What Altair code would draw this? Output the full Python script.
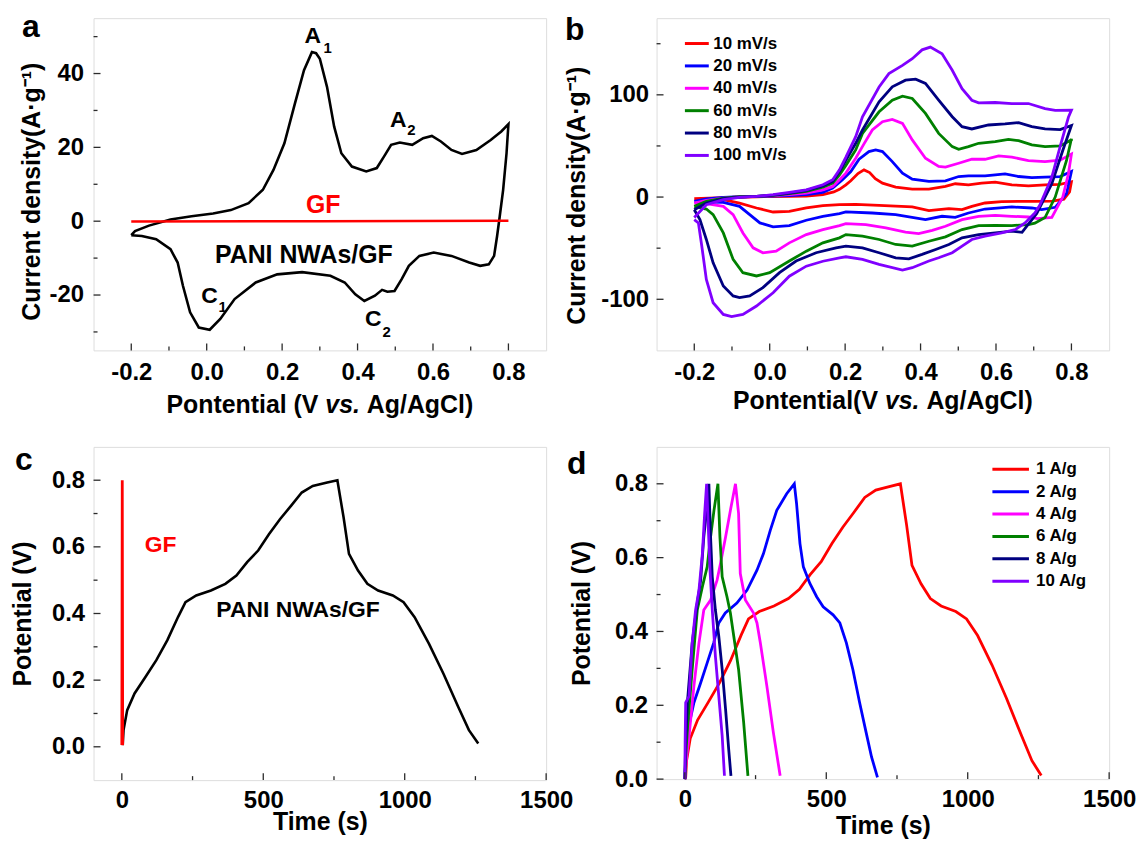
import altair as alt
import pandas as pd

FONT = "Liberation Sans"
FRAME = "#2b2b2b"

# ---------------- panel a : CV of PANI NWAs/GF and GF ----------------
a_up_x = [-0.2, -0.19, -0.153, -0.096, -0.04, 0.017, 0.064, 0.111, 0.149, 0.177, 0.206, 0.234, 0.258, 0.279, 0.29, 0.3, 0.319, 0.338, 0.357, 0.385, 0.423, 0.451, 0.47, 0.489, 0.512, 0.545, 0.574, 0.597, 0.621, 0.649, 0.677, 0.715, 0.753, 0.781, 0.8]
a_up_y = [-3.8, -2.7, -1.2, 0.45, 1.35, 2.1, 3.0, 4.9, 8.5, 13.9, 21.1, 31.9, 40.9, 45.8, 45.5, 44.0, 36.4, 25.6, 18.4, 14.8, 13.5, 14.4, 17.5, 20.7, 21.3, 20.7, 22.5, 23.1, 21.6, 19.3, 18.2, 19.3, 22.0, 24.3, 26.3]
a_dn_x = [0.8, 0.795, 0.786, 0.777, 0.770, 0.762, 0.748, 0.725, 0.696, 0.649, 0.602, 0.564, 0.536, 0.517, 0.498, 0.479, 0.465, 0.446, 0.418, 0.394, 0.366, 0.328, 0.253, 0.187, 0.13, 0.074, 0.036, 0.008, -0.021, -0.044, -0.063, -0.077, -0.096, -0.134, -0.172, -0.2]
a_dn_y = [26.3, 18.4, 8.5, 1.35, -4.0, -9.4, -11.7, -12.1, -11.2, -9.4, -8.5, -9.4, -12.1, -15.7, -18.9, -19.1, -18.6, -20.2, -21.6, -19.8, -16.6, -14.8, -13.8, -14.4, -16.6, -21.1, -26.5, -29.4, -28.8, -24.7, -17.5, -11.2, -7.6, -4.9, -4.0, -3.8]
a_gf_x = [-0.2, 0.3, 0.8]
a_gf_y = [-0.1, 0.0, 0.1]

a_lab_text = ["A", "A", "C", "C", "PANI NWAs/GF"]
a_lab_x = [0.281, 0.508, 0.0075, 0.4415, 0.2575]
a_lab_y = [48.3, 25.6, -22.2, -28.3, -11.2]
a_sub_text = ["1", "2", "1", "2"]
a_sub_x = [0.321, 0.543, 0.0425, 0.477]
a_sub_y = [45.6, 23.3, -24.7, -31.3]
a_gf_lab = ["GF"]
a_gf_lab_x = [0.309]
a_gf_lab_y = [2.25]

# x-axis titles of a and b (the "vs." part is italic)
a_title_parts = ["Pontential (V", "vs.", "Ag/AgCl)"]
b_title_parts = ["Pontential(V", "vs.", "Ag/AgCl)"]
title_styles = ["normal", "italic", "normal"]

# ---------------- panel b : CV at several scan rates ----------------
b_names = ["10 mV/s", "20 mV/s", "40 mV/s", "60 mV/s", "80 mV/s", "100 mV/s"]
b_colors = ["#FF0000", "#0000FF", "#FF00FF", "#008000", "#000080", "#8000FF"]

b10_ux = [-0.2, -0.123, -0.035, 0.052, 0.097, 0.141, 0.17, 0.185, 0.202, 0.215, 0.234, 0.25, 0.265, 0.28, 0.299, 0.334, 0.378, 0.422, 0.466, 0.492, 0.527, 0.562, 0.598, 0.642, 0.686, 0.73, 0.77, 0.8]
b10_uy = [-1.6, -0.6, 0.3, 0.6, 0.9, 2.3, 5.0, 7.5, 12.0, 16.0, 23.0, 26.6, 24.0, 18.0, 13.6, 9.7, 7.8, 7.8, 10.4, 13.0, 12.0, 13.6, 14.6, 12.0, 11.0, 12.0, 12.5, 15.0]
b10_dx = [0.8, 0.795, 0.78, 0.75, 0.703, 0.660, 0.615, 0.571, 0.536, 0.510, 0.475, 0.448, 0.422, 0.378, 0.290, 0.228, 0.185, 0.141, 0.097, 0.052, 0.009, -0.035, -0.080, -0.123, -0.168, -0.2]
b10_dy = [15.0, 5.0, -2.0, -4.0, -4.2, -4.2, -4.5, -5.8, -9.1, -12.3, -11.4, -12.3, -13.3, -9.7, -8.1, -7.1, -7.5, -8.4, -10.7, -14.0, -14.6, -10.7, -5.9, -2.6, -2.0, -1.6]

b20_ux = [-0.2, -0.168, -0.123, -0.080, -0.035, 0.009, 0.052, 0.097, 0.141, 0.167, 0.193, 0.215, 0.237, 0.263, 0.281, 0.299, 0.325, 0.352, 0.378, 0.422, 0.466, 0.501, 0.527, 0.571, 0.598, 0.624, 0.660, 0.695, 0.730, 0.77, 0.8]
b20_uy = [-4.2, -1.9, -0.3, 0.3, 0.6, 1.0, 1.3, 2.3, 4.5, 8.8, 17.0, 25.0, 37.0, 44.5, 46.1, 44.5, 34.7, 23.4, 17.5, 15.3, 15.9, 20.1, 20.8, 20.8, 21.7, 22.7, 20.1, 19.1, 19.5, 20.0, 25.0]
b20_dx = [0.8, 0.787, 0.757, 0.721, 0.695, 0.642, 0.571, 0.527, 0.492, 0.457, 0.413, 0.334, 0.272, 0.202, 0.185, 0.141, 0.097, 0.052, 0.009, -0.026, -0.053, -0.080, -0.123, -0.168, -0.2]
b20_dy = [25.0, 3.3, -10.0, -12.3, -10.7, -9.7, -11.7, -15.6, -19.8, -18.8, -22.1, -17.2, -15.6, -14.6, -16.2, -18.8, -22.7, -27.9, -29.2, -25.3, -17.2, -9.1, -5.2, -4.9, -4.2]

b40_ux = [-0.2, -0.168, -0.123, -0.080, -0.035, 0.009, 0.052, 0.097, 0.141, 0.167, 0.185, 0.202, 0.228, 0.250, 0.272, 0.299, 0.325, 0.352, 0.378, 0.413, 0.448, 0.466, 0.501, 0.536, 0.571, 0.607, 0.642, 0.686, 0.730, 0.77, 0.8]
b40_uy = [-5.8, -3.2, -1.0, 0.3, 0.6, 1.3, 2.3, 3.9, 7.1, 10.4, 16.9, 23.4, 38.0, 52.0, 65.6, 73.7, 76.0, 72.1, 55.9, 38.0, 29.9, 29.2, 33.1, 37.0, 37.0, 40.3, 39.0, 35.7, 34.7, 36.0, 42.0]
b40_dx = [0.8, 0.792, 0.777, 0.748, 0.71, 0.686, 0.642, 0.598, 0.554, 0.510, 0.466, 0.431, 0.395, 0.36, 0.308, 0.255, 0.202, 0.185, 0.141, 0.097, 0.052, 0.017, -0.018, -0.044, -0.071, -0.097, -0.123, -0.168, -0.2]
b40_dy = [42.0, 22.8, 0.0, -20.0, -21.0, -19.5, -18.8, -17.9, -18.8, -22.1, -28.6, -32.5, -35.7, -34.4, -30.2, -26.9, -26.0, -27.9, -31.8, -36.7, -44.8, -52.9, -54.5, -49.7, -35.1, -17.2, -9.1, -6.5, -5.8]

b60_ux = [-0.2, -0.168, -0.123, -0.080, -0.035, 0.009, 0.052, 0.097, 0.141, 0.167, 0.185, 0.202, 0.228, 0.246, 0.290, 0.325, 0.352, 0.378, 0.413, 0.448, 0.484, 0.501, 0.527, 0.554, 0.598, 0.633, 0.660, 0.695, 0.730, 0.77, 0.8]
b60_uy = [-9.1, -4.2, -1.0, 0.3, 0.6, 1.6, 3.3, 5.5, 9.7, 13.6, 21.7, 31.0, 46.1, 62.3, 83.4, 94.8, 98.7, 96.4, 81.8, 62.3, 49.3, 46.7, 49.3, 52.6, 54.2, 56.5, 55.2, 51.0, 49.3, 50.0, 56.0]
b60_dx = [0.8, 0.787, 0.757, 0.730, 0.703, 0.686, 0.642, 0.598, 0.554, 0.510, 0.466, 0.422, 0.378, 0.334, 0.290, 0.246, 0.202, 0.185, 0.141, 0.097, 0.052, 0.0, -0.035, -0.071, -0.097, -0.123, -0.150, -0.168, -0.2]
b60_dy = [57.0, 35.8, 0.0, -20.0, -25.5, -26.9, -27.9, -27.6, -27.9, -31.8, -38.9, -43.2, -48.0, -46.4, -41.5, -38.3, -36.7, -39.9, -44.8, -52.9, -62.6, -74.0, -77.2, -74.0, -61.0, -35.1, -17.2, -11.7, -9.1]

b80_ux = [-0.2, -0.168, -0.123, -0.080, -0.035, 0.009, 0.052, 0.097, 0.141, 0.167, 0.185, 0.202, 0.228, 0.246, 0.290, 0.325, 0.360, 0.387, 0.413, 0.448, 0.484, 0.510, 0.536, 0.580, 0.624, 0.660, 0.695, 0.730, 0.77, 0.8]
b80_uy = [-12.4, -5.9, -1.6, 0.0, 0.6, 1.9, 3.9, 6.5, 11.0, 15.3, 25.0, 36.0, 52.6, 65.6, 93.2, 107.8, 114.3, 115.3, 111.1, 94.8, 78.6, 68.9, 66.6, 70.5, 71.5, 72.8, 68.9, 66.6, 66.0, 70.0]
b80_dx = [0.8, 0.777, 0.748, 0.708, 0.669, 0.642, 0.598, 0.554, 0.510, 0.475, 0.440, 0.404, 0.369, 0.334, 0.290, 0.246, 0.202, 0.176, 0.123, 0.070, 0.026, -0.018, -0.053, -0.080, -0.097, -0.123, -0.150, -0.168, -0.185, -0.2]
b80_dy = [70.0, 45.6, 13.0, -16.0, -34.5, -33.4, -35.1, -36.7, -39.9, -46.4, -51.3, -56.1, -60.4, -59.4, -54.5, -49.7, -48.0, -49.7, -54.5, -62.6, -74.0, -88.6, -96.7, -98.4, -96.7, -87.0, -64.3, -41.5, -22.1, -12.4]

b100_ux = [-0.2, -0.168, -0.123, -0.080, -0.035, 0.009, 0.052, 0.097, 0.141, 0.167, 0.185, 0.202, 0.228, 0.246, 0.290, 0.316, 0.352, 0.378, 0.404, 0.426, 0.457, 0.484, 0.510, 0.536, 0.554, 0.598, 0.642, 0.686, 0.730, 0.757, 0.8]
b100_uy = [-20.0, -7.5, -2.6, -0.3, 0.6, 2.3, 4.5, 7.1, 12.0, 16.9, 26.6, 39.0, 59.1, 78.5, 107.7, 120.7, 128.8, 135.3, 144.0, 146.7, 140.2, 124.0, 106.1, 94.7, 92.1, 92.5, 91.5, 91.5, 86.6, 84.7, 85.0]
b100_dx = [0.8, 0.792, 0.772, 0.748, 0.730, 0.716, 0.703, 0.677, 0.651, 0.615, 0.571, 0.536, 0.510, 0.484, 0.448, 0.422, 0.378, 0.352, 0.290, 0.246, 0.202, 0.185, 0.141, 0.097, 0.052, 0.009, -0.035, -0.071, -0.101, -0.123, -0.150, -0.168, -0.180, -0.189, -0.2]
b100_dy = [85.0, 78.0, 52.0, 19.5, 3.9, -8.0, -15.6, -25.3, -31.8, -35.1, -38.3, -41.5, -48.0, -54.5, -59.4, -62.6, -69.1, -71.4, -65.9, -61.0, -58.4, -59.5, -62.8, -67.6, -77.4, -93.6, -106.6, -114.8, -117.0, -114.8, -103.4, -80.6, -48.1, -25.4, -22.1]

# ---------------- panel c : GCD of GF and PANI NWAs/GF ----------------
pani_t = [3, 6, 19, 45, 84, 122, 161, 199, 225, 263, 315, 366, 405, 443, 482, 520, 559, 598, 636, 675, 726, 762, 784, 803, 835, 868, 906, 958, 996, 1035, 1086, 1137, 1189, 1227, 1260]
pani_v = [0.005, 0.05, 0.11, 0.16, 0.21, 0.26, 0.32, 0.39, 0.434, 0.454, 0.469, 0.489, 0.514, 0.554, 0.589, 0.638, 0.683, 0.723, 0.763, 0.783, 0.793, 0.8, 0.688, 0.579, 0.529, 0.489, 0.469, 0.454, 0.434, 0.389, 0.309, 0.219, 0.12, 0.05, 0.01]
gf_t = [0, 1.5, 3]
gf_v = [0.005, 0.8, 0.005]
c_lab_text = ["PANI NWAs/GF"]
c_lab_x = [623]
c_lab_y = [0.389]
c_gf_lab = ["GF"]
c_gf_lab_x = [137]
c_gf_lab_y = [0.584]

# ---------------- panel d : GCD at several current densities ----------------
d_names = ["1 A/g", "2 A/g", "4 A/g", "6 A/g", "8 A/g", "10 A/g"]
d_colors = ["#FF0000", "#0000FF", "#FF00FF", "#008000", "#000080", "#8000FF"]
d1_t = [0] + pani_t
d1_v = [0.0] + pani_v
d2_t = [0, 3, 9, 32, 56, 79, 102, 120, 143, 184, 220, 255, 278, 302, 325, 360, 387, 395, 407, 419, 442, 466, 489, 524, 548, 571, 594, 618, 641, 660, 681]
d2_v = [0.0, 0.05, 0.126, 0.207, 0.261, 0.315, 0.369, 0.423, 0.45, 0.477, 0.512, 0.566, 0.611, 0.674, 0.728, 0.773, 0.8, 0.746, 0.638, 0.575, 0.53, 0.494, 0.467, 0.445, 0.423, 0.369, 0.297, 0.207, 0.126, 0.06, 0.005]
d4_t = [0, 5, 15, 32, 50, 67, 91, 114, 126, 144, 161, 179, 190, 196, 214, 243, 255, 267, 290, 313, 337]
d4_v = [0.0, 0.05, 0.117, 0.252, 0.369, 0.458, 0.485, 0.539, 0.584, 0.656, 0.728, 0.8, 0.719, 0.557, 0.485, 0.45, 0.423, 0.369, 0.252, 0.126, 0.009]
d6_t = [0, 3, 9, 26, 44, 62, 79, 91, 103, 117, 124, 132, 149, 161, 173, 190, 208, 223]
d6_v = [0.0, 0.06, 0.135, 0.297, 0.458, 0.521, 0.575, 0.656, 0.728, 0.8, 0.656, 0.548, 0.494, 0.45, 0.387, 0.297, 0.153, 0.009]
d8_t = [0, 3, 9, 26, 44, 56, 67, 77, 85, 91, 97, 108, 120, 132, 144, 155, 163]
d8_v = [0.0, 0.1, 0.207, 0.369, 0.477, 0.539, 0.656, 0.728, 0.8, 0.656, 0.548, 0.458, 0.387, 0.297, 0.189, 0.081, 0.009]
d10_t = [0, 1, 3, 15, 26, 38, 50, 62, 70, 77, 82, 89, 97, 108, 120, 132, 140]
d10_v = [0.0, 0.1, 0.207, 0.225, 0.369, 0.458, 0.512, 0.611, 0.719, 0.8, 0.701, 0.566, 0.458, 0.333, 0.225, 0.117, 0.009]

# ---------------- axis ticks ----------------
a_xmaj = [-0.2, 0.0, 0.2, 0.4, 0.6, 0.8]
a_xmin = [-0.1, 0.1, 0.3, 0.5, 0.7]
a_ymaj = [-20, 0, 20, 40]
a_ymin = [-30, -10, 10, 30, 50]
b_ymaj = [-100, 0, 100]
b_ymin = [-50, 50, 150]
t_xmaj = [0, 500, 1000, 1500]
t_xmin = [250, 750, 1250]
t_ymaj = [0.0, 0.2, 0.4, 0.6, 0.8]
t_ymin = [0.1, 0.3, 0.5, 0.7]

panel_letters = ["a", "b", "c", "d"]

W, H = 455, 334


def series_df(names, xs_list, ys_list):
    rows = []
    for name, xs, ys in zip(names, xs_list, ys_list, strict=True):
        for i, (x, y) in enumerate(zip(xs, ys, strict=True)):
            rows.append({"s": name, "x": x, "y": y, "i": i})
    return pd.DataFrame(rows)


def neg_expr(fmt):
    return f"datum.value < 0 ? '-' + format(-datum.value, '{fmt}') : format(datum.value, '{fmt}')"


def x_axis(title, values, fmt, title_y, pad):
    kw = dict(values=values, labelExpr=neg_expr(fmt), ticks=False, domain=False,
              grid=False, labelFont=FONT, labelFontSize=24, labelFontWeight="bold",
              labelColor="black", labelPadding=pad, labelFlush=False, labelOverlap=False)
    if title is None:
        return alt.Axis(title=None, **kw)
    return alt.Axis(title=title, titleFont=FONT, titleFontSize=25, titleFontWeight="bold",
                    titleColor="black", titleY=title_y, **kw)


def y_axis(title, values, fmt, title_x, pad, title_y=None):
    kw = dict(title=title, values=values, labelExpr=neg_expr(fmt), ticks=False, domain=False,
              grid=False, labelFont=FONT, labelFontSize=24, labelFontWeight="bold",
              labelColor="black", labelPadding=pad, labelFlush=False, labelOverlap=False,
              titleFont=FONT, titleFontSize=25, titleFontWeight="bold", titleColor="black",
              titleX=title_x)
    if title_y is not None:
        kw["titleY"] = title_y
    return alt.Axis(**kw)


def tick_layers(xs, ys, xa, ya, xmaj, xmin, ymaj, ymin, h):
    layers = []
    for vals, ln in ((xmaj, 7), (xmin, 4)):
        layers.append(alt.Chart(pd.DataFrame({"v": vals})).mark_rule(color=FRAME, strokeWidth=1.3).encode(
            x=alt.X("v:Q", scale=xs, axis=xa), y=alt.value(h), y2=alt.value(h - ln)))
    for vals, ln in ((ymaj, 7), (ymin, 4)):
        layers.append(alt.Chart(pd.DataFrame({"v": vals})).mark_rule(color=FRAME, strokeWidth=1.3).encode(
            y=alt.Y("v:Q", scale=ys, axis=ya), x=alt.value(0), x2=alt.value(ln)))
    return layers


def letter_layer(letter, x, y):
    return alt.Chart(pd.DataFrame({"t": [letter]})).mark_text(
        align="left", baseline="top", font=FONT, fontSize=32, fontWeight="bold", color="black"
    ).encode(text="t:N", x=alt.value(x), y=alt.value(y))


def title_layers(parts, styles, x0, y0, space_px=6.95):
    # segment widths for 25px Liberation Sans Bold (Arial metrics, em units)
    em = {"P": .667, "o": .611, "n": .611, "t": .333, "e": .556, "i": .278, "a": .556, "l": .278,
          " ": .278, "(": .333, ")": .333, "V": .667, "v": .556, "s": .556, ".": .278, "A": .722,
          "g": .611, "/": .278, "C": .722}
    layers = []
    x = x0
    for part, style in zip(parts, styles):
        layers.append(alt.Chart(pd.DataFrame({"t": [part]})).mark_text(
            align="left", baseline="alphabetic", font=FONT, fontSize=25, fontWeight="bold",
            fontStyle=style, color="black").encode(text="t:N", x=alt.value(x), y=alt.value(y0)))
        x += sum(em[c] for c in part) * 25 + space_px
    return layers


def text_layer(texts, xs_, ys_, xs, ys, xa, ya, size, color="black"):
    df = pd.DataFrame({"t": texts, "x": xs_, "y": ys_})
    return alt.Chart(df).mark_text(align="center", baseline="alphabetic", font=FONT, fontSize=size,
                                   fontWeight="bold", color=color).encode(
        text="t:N", x=alt.X("x:Q", scale=xs, axis=xa), y=alt.Y("y:Q", scale=ys, axis=ya))


def line_layer(df, xs, ys, xa, ya, width, color=None, legend_spec=None):
    enc = dict(x=alt.X("x:Q", scale=xs, axis=xa), y=alt.Y("y:Q", scale=ys, axis=ya), order="i:Q")
    if legend_spec is not None:
        names, colors, leg = legend_spec
        enc["color"] = alt.Color("s:N", scale=alt.Scale(domain=names, range=colors), legend=leg)
        return alt.Chart(df).mark_line(strokeWidth=width).encode(**enc)
    return alt.Chart(df).mark_line(strokeWidth=width, color=color).encode(**enc)


# ---------------- panel a ----------------
ax_s = alt.Scale(domain=[-0.3, 0.9], nice=False, zero=False)
ay_s = alt.Scale(domain=[-35, 55], nice=False, zero=False)
a_xa = x_axis(None, a_xmaj, ".1f", 43, 10)
a_ya = y_axis("Current density(A·g⁻¹)", a_ymaj, "d", -49.5, 10, 174)
a_loop = series_df(["PANI"], [a_up_x + a_dn_x], [a_up_y + a_dn_y])
a_gf = series_df(["GF"], [a_gf_x], [a_gf_y])
pa = alt.layer(
    line_layer(a_loop, ax_s, ay_s, a_xa, a_ya, 2.6, "black"),
    line_layer(a_gf, ax_s, ay_s, a_xa, a_ya, 2.6, "#FF0000"),
    text_layer(a_lab_text[:4], a_lab_x[:4], a_lab_y[:4], ax_s, ay_s, a_xa, a_ya, 23),
    text_layer(a_lab_text[4:], a_lab_x[4:], a_lab_y[4:], ax_s, ay_s, a_xa, a_ya, 25),
    text_layer(a_sub_text, a_sub_x, a_sub_y, ax_s, ay_s, a_xa, a_ya, 15),
    text_layer(a_gf_lab, a_gf_lab_x, a_gf_lab_y, ax_s, ay_s, a_xa, a_ya, 25, "#FF0000"),
    *tick_layers(ax_s, ay_s, a_xa, a_ya, a_xmaj, a_xmin, a_ymaj, a_ymin, H),
    *title_layers(a_title_parts, title_styles, 73.3, 396.5),
    letter_layer(panel_letters[0], -72, -6),
).properties(width=W, height=H)

# ---------------- panel b ----------------
by_s = alt.Scale(domain=[-150, 175], nice=False, zero=False)
b_xa = x_axis(None, a_xmaj, ".1f", 39, 10)
b_ya = y_axis("Current density(A·g⁻¹)", b_ymaj, "d", -67, 8, 178)
b_df = series_df(b_names,
                 [b10_ux + b10_dx, b20_ux + b20_dx, b40_ux + b40_dx, b60_ux + b60_dx, b80_ux + b80_dx, b100_ux + b100_dx],
                 [b10_uy + b10_dy, b20_uy + b20_dy, b40_uy + b40_dy, b60_uy + b60_dy, b80_uy + b80_dy, b100_uy + b100_dy])
b_leg = alt.Legend(orient="none", legendX=27, legendY=12, title=None, symbolType="stroke",
                   symbolSize=576, symbolStrokeWidth=3, labelFont=FONT, labelFontSize=17,
                   labelFontWeight="bold", labelColor="black", labelOffset=3, rowPadding=0.5, padding=0)
pb = alt.layer(
    line_layer(b_df, ax_s, by_s, b_xa, b_ya, 2.8, legend_spec=(b_names, b_colors, b_leg)),
    *tick_layers(ax_s, by_s, b_xa, b_ya, a_xmaj, a_xmin, b_ymaj, b_ymin, H),
    *title_layers(b_title_parts, title_styles, 76.8, 393),
    letter_layer(panel_letters[1], -92, -3),
).properties(width=W, height=H)

# ---------------- panel c ----------------
tx_s = alt.Scale(domain=[-100, 1500], nice=False, zero=False)
cy_s = alt.Scale(domain=[-0.1, 0.9], nice=False, zero=False)
c_xa = x_axis("Time (s)", t_xmaj, "d", 30, 9)
c_ya = y_axis("Potential (V)", t_ymaj, ".1f", -58, 9)
c_df = series_df(["PANI"], [pani_t], [pani_v])
c_gf = series_df(["GF"], [gf_t], [gf_v])
pc = alt.layer(
    line_layer(c_df, tx_s, cy_s, c_xa, c_ya, 2.6, "black"),
    line_layer(c_gf, tx_s, cy_s, c_xa, c_ya, 2.8, "#FF0000"),
    text_layer(c_lab_text, c_lab_x, c_lab_y, tx_s, cy_s, c_xa, c_ya, 23),
    text_layer(c_gf_lab, c_gf_lab_x, c_gf_lab_y, tx_s, cy_s, c_xa, c_ya, 23, "#FF0000"),
    *tick_layers(tx_s, cy_s, c_xa, c_ya, t_xmaj, t_xmin, t_ymaj, t_ymin, 335),
    letter_layer(panel_letters[2], -79, -2),
).properties(width=W, height=335)

# ---------------- panel d ----------------
dy_s = alt.Scale(domain=[0.0, 0.9], nice=False, zero=False)
d_xa = x_axis("Time (s)", t_xmaj, "d", 35, 9)
d_ya = y_axis("Potential (V)", t_ymaj, ".1f", -62, 9)
d_df = series_df(d_names, [d1_t, d2_t, d4_t, d6_t, d8_t, d10_t], [d1_v, d2_v, d4_v, d6_v, d8_v, d10_v])
d_leg = alt.Legend(orient="none", legendX=342, legendY=8.5, title=None, symbolType="M-1.5,0H1.5",
                   symbolSize=600, symbolStrokeWidth=3, labelFont=FONT, labelFontSize=17,
                   labelFontWeight="bold", labelColor="black", labelOffset=11.5, rowPadding=0.5, padding=0)
pdd = alt.layer(
    line_layer(d_df, tx_s, dy_s, d_xa, d_ya, 2.8, legend_spec=(d_names, d_colors, d_leg)),
    *tick_layers(tx_s, dy_s, d_xa, d_ya, t_xmaj, t_xmin, t_ymaj, t_ymin, H),
    letter_layer(panel_letters[3], -90, 2),
).properties(width=W, height=H)

chart = alt.concat(pa, pb, pc, pdd, columns=2, spacing={"row": 97, "column": 111},
                   bounds="flush").resolve_scale(color="independent").properties(
    padding={"left": 2, "top": 0, "right": 0, "bottom": 0}
).configure_view(stroke=FRAME, strokeWidth=1.5).configure(font=FONT)

chart.save("out.html", embed_options={"renderer": "svg", "actions": False})
